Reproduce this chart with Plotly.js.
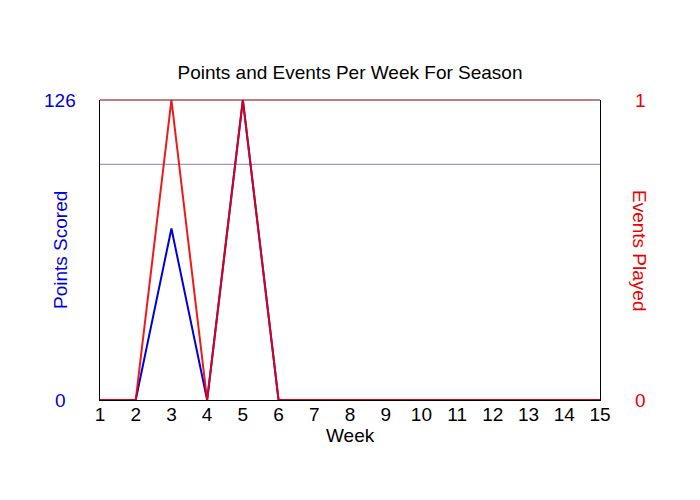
<!DOCTYPE html>
<html>
<head>
<meta charset="utf-8">
<script src="https://cdn.plot.ly/plotly-3.0.1.min.js"></script>
<style>
  body { margin: 0; background: #fff; }
  #chart { width: 700px; height: 500px; }
</style>
</head>
<body>
<div id="chart"></div>
<script>
// Dữ liệu theo tuần
var weeks = [1, 2, 3, 4, 5, 6, 7, 8, 9, 10, 11, 12, 13, 14, 15];
var pointsScored = [0, 0, 72, 0, 126, 0, 0, 0, 0, 0, 0, 0, 0, 0, 0];
var eventsPlayed = [0, 0, 1, 0, 1, 0, 0, 0, 0, 0, 0, 0, 0, 0, 0];
var avgPoints = 99; // đường trung bình điểm mỗi sự kiện
var pointsTicks = [0, 126];
var eventsTicks = [0, 1];

var font = "Liberation Sans, Arial, sans-serif";
var fs = 19;
var blue = '#0000dd';
var red = '#ee0000';

var traces = [
  {
    x: [weeks[0], weeks[weeks.length - 1]],
    y: [avgPoints, avgPoints],
    mode: 'lines',
    line: { color: '#8080c0', width: 1 },
    hoverinfo: 'skip',
    showlegend: false
  },
  {
    x: weeks,
    y: pointsScored,
    mode: 'lines',
    line: { color: blue, width: 2 },
    name: 'Points Scored',
    showlegend: false
  },
  {
    x: weeks,
    y: eventsPlayed,
    yaxis: 'y2',
    mode: 'lines',
    line: { color: red, width: 2 },
    opacity: 0.9,
    name: 'Events Played',
    showlegend: false
  }
];

// Nhãn trục y căn giữa (giống bản gốc), đặt theo toạ độ dữ liệu
var annotations = [];
pointsTicks.forEach(function(v){
  annotations.push({ text: String(v), xref: 'paper', yref: 'y', x: -40 / 500, y: v,
    xanchor: 'center', yanchor: 'middle', showarrow: false,
    font: { family: font, size: fs, color: blue } });
});
eventsTicks.forEach(function(v){
  annotations.push({ text: String(v), xref: 'paper', yref: 'y2', x: 1 + 40 / 500, y: v,
    xanchor: 'center', yanchor: 'middle', showarrow: false,
    font: { family: font, size: fs, color: red } });
});
annotations.push({ text: 'Points Scored', xref: 'paper', yref: 'paper', x: -40 / 500, y: 0.5,
  xanchor: 'center', yanchor: 'middle', textangle: -90, showarrow: false,
  font: { family: font, size: fs, color: blue } });
annotations.push({ text: 'Events Played', xref: 'paper', yref: 'paper', x: 1 + 40 / 500, y: 0.5,
  xanchor: 'center', yanchor: 'middle', textangle: 90, showarrow: false,
  font: { family: font, size: fs, color: red } });
annotations.push({ text: 'Week', xref: 'paper', yref: 'paper', x: 0.5, y: -35 / 300,
  xanchor: 'center', yanchor: 'middle', showarrow: false,
  font: { family: font, size: fs, color: '#000' } });

var layout = {
  width: 700,
  height: 500,
  paper_bgcolor: '#fff',
  plot_bgcolor: '#fff',
  margin: { l: 100, r: 100, t: 100, b: 100 },
  font: { family: font, size: fs, color: '#000' },
  title: {
    text: 'Points and Events Per Week For Season',
    font: { family: font, size: fs, color: '#000' },
    x: 0.5, xanchor: 'center',
    y: 1 - 72 / 500, yanchor: 'middle'
  },
  xaxis: {
    range: [1, 15],
    tickvals: weeks,
    ticks: '',
    showgrid: false,
    zeroline: false,
    showline: true,
    linecolor: '#000',
    linewidth: 1,
    layer: 'below traces',
    tickfont: { family: font, size: fs, color: '#000' },
    ticklabelstandoff: -3
  },
  yaxis: {
    range: [pointsTicks[0], pointsTicks[1]],
    showticklabels: false,
    ticks: '',
    showgrid: false,
    zeroline: false,
    showline: true,
    linecolor: '#000',
    linewidth: 1,
    layer: 'below traces'
  },
  yaxis2: {
    overlaying: 'y',
    side: 'right',
    range: [eventsTicks[0], eventsTicks[1]],
    showticklabels: false,
    ticks: '',
    showgrid: false,
    zeroline: false,
    showline: true,
    linecolor: '#000',
    linewidth: 1,
    layer: 'below traces'
  },
  shapes: [
    { type: 'line', xref: 'paper', yref: 'paper', x0: 0, x1: 1, y0: 1, y1: 1,
      layer: 'below', line: { color: '#800000', width: 1 } }
  ],
  annotations: annotations
};

Plotly.newPlot('chart', traces, layout, { displayModeBar: false, staticPlot: true });
</script>
</body>
</html>
